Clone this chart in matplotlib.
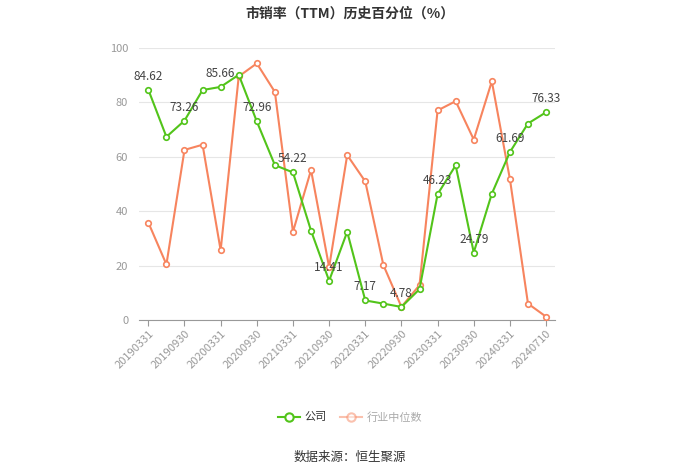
import matplotlib
matplotlib.use("Agg")
import matplotlib.pyplot as plt
from matplotlib.lines import Line2D

plt.rcParams['font.family'] = ['Noto Sans CJK SC', 'DejaVu Sans']

dates = ['20190331', '20190630', '20190930', '20191231', '20200331', '20200630',
         '20200930', '20201231', '20210331', '20210630', '20210930', '20211231',
         '20220331', '20220630', '20220930', '20221231', '20230331', '20230630',
         '20230930', '20231231', '20240331', '20240630', '20240710']
company = [84.62, 67.3, 73.26, 84.5, 85.66, 90.1, 72.96, 56.9, 54.22, 32.8, 14.41, 32.4,
           7.17, 6.0, 4.78, 11.3, 46.23, 56.8, 24.79, 46.4, 61.69, 72.2, 76.33]
industry = [35.8, 20.4, 62.5, 64.4, 25.6, 89.5, 94.3, 83.8, 32.4, 55.1, 19.4, 60.6,
            50.9, 20.2, 4.8, 12.8, 77.0, 80.4, 66.3, 87.7, 51.8, 6.0, 1.2]

GREEN = '#52c41a'
ORANGE = '#f7845e'

fig = plt.figure(figsize=(7, 4.74), dpi=100)
ax = fig.add_axes([0.199, 0.325, 0.594, 0.574])

x = list(range(len(dates)))
ax.plot(x, industry, color=ORANGE, lw=1.5, marker='o', ms=4, mfc='white',
        mec=ORANGE, mew=1.2, zorder=3)
ax.plot(x, company, color=GREEN, lw=1.5, marker='o', ms=4, mfc='white',
        mec=GREEN, mew=1.2, zorder=4)

for i in range(0, len(dates), 2):
    ax.annotate(f'{company[i]:.2f}', (x[i], company[i]), xytext=(0, 5),
                textcoords='offset points', ha='center', va='bottom',
                fontsize=8.5, color='#444444', zorder=5)

ax.set_xlim(-0.5, len(dates) - 0.5)
ax.set_ylim(0, 100)
ax.set_yticks([0, 20, 40, 60, 80, 100])
ax.yaxis.grid(True, color='#e6e6e6', lw=0.8)
ax.set_axisbelow(True)
tick_idx = list(range(0, 21, 2)) + [22]
ax.set_xticks(tick_idx)
ax.set_xticklabels([dates[i] for i in tick_idx], rotation=45, ha='right',
                   rotation_mode='anchor', fontsize=8, color='#999999')
ax.tick_params(axis='y', length=0, labelsize=8, labelcolor='#999999', pad=8)
ax.tick_params(axis='x', length=4, color='#999999', pad=2)
for s in ['top', 'right', 'left']:
    ax.spines[s].set_visible(False)
ax.spines['bottom'].set_color('#999999')

fig.text(0.5, 0.972, '市销率（TTM）历史百分位（%）', ha='center', va='center',
         fontsize=10, fontweight='bold', color='#333333')

handles = [Line2D([], [], color=GREEN, lw=1.5, marker='o', ms=6, mfc='white', mec=GREEN, mew=1.5),
           Line2D([], [], color=ORANGE, lw=1.5, marker='o', ms=6, mfc='white', mec=ORANGE,
                  mew=1.5, alpha=0.5)]
leg = fig.legend(handles, ['公司', '行业中位数'], loc='center', bbox_to_anchor=(0.5, 0.12),
                 ncol=2, frameon=False, fontsize=8, handlelength=2, columnspacing=1.2,
                 handletextpad=0.4)
leg.get_texts()[0].set_color('#333333')
leg.get_texts()[1].set_color('#aaaaaa')

fig.text(0.5, 0.035, '数据来源：恒生聚源', ha='center', va='center',
         fontsize=9, color='#333333')

fig.savefig('out.png', dpi=100)
